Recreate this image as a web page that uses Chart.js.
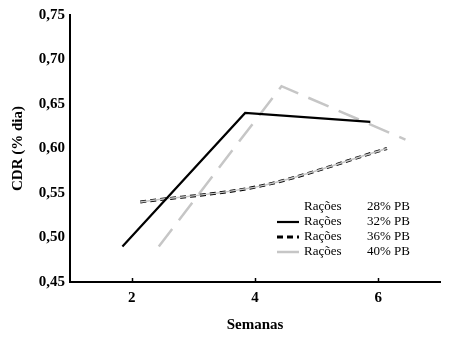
<!DOCTYPE html>
<html>
<head>
<meta charset="utf-8">
<script src="https://cdn.jsdelivr.net/npm/chart.js@4.4.1/dist/chart.umd.min.js"></script>
<style>
  html, body { margin: 0; padding: 0; background: #fff; }
  canvas { display: block; }
</style>
</head>
<body>
<canvas id="chart" width="450" height="337"></canvas>
<script>
// CDR (% dia) per week, one line per ration protein level
var weekTicks = [2, 4, 6];
var weeks32 = [1.85, 3.84, 5.87];
var cdr32 = [0.49, 0.64, 0.63];
var weeks36 = [2.14, 4.1, 6.14];
var cdr36 = [0.54, 0.558, 0.60];
var weeks40 = [2.44, 4.43, 6.44];
var cdr40 = [0.49, 0.67, 0.61];
var legendRows = [
    { name: "Rações", level: "28% PB", ds: null },
    { name: "Rações", level: "32% PB", ds: 0 },
    { name: "Rações", level: "36% PB", ds: 2 },
    { name: "Rações", level: "40% PB", ds: 3 }
];

var serif = "'Liberation Serif', 'Times New Roman', serif";
var grey = "#c6c6c6";

function points(xs, ys) {
    return xs.map(function (x, i) { return { x: x, y: ys[i] }; });
}

// small inward tick marks on the x axis plus the two-column legend
var extras = {
    id: "extras",
    afterDraw: function (chart) {
        let ctx = chart.ctx;
        let x = chart.scales.x;
        let area = chart.chartArea;
        ctx.save();
        ctx.strokeStyle = "#000";
        ctx.lineWidth = 1.5;
        weekTicks.forEach(function (v) {
            let px = Math.round(x.getPixelForValue(v)) + 0.5;
            ctx.beginPath();
            ctx.moveTo(px, area.bottom);
            ctx.lineTo(px, area.bottom - 4);
            ctx.stroke();
        });

        ctx.font = "13px " + serif;
        ctx.fillStyle = "#000";
        ctx.textBaseline = "middle";
        for (let i = 0; i < legendRows.length; i++) {
            let row = legendRows[i];
            let y = 207 + i * 15;
            if (row.ds !== null) {
                let ds = chart.data.datasets[row.ds];
                ctx.beginPath();
                ctx.strokeStyle = ds.borderColor;
                ctx.lineWidth = ds.borderWidth;
                ctx.setLineDash(ds.borderDash || []);
                ctx.moveTo(277, y);
                ctx.lineTo(299, y);
                ctx.stroke();
                ctx.setLineDash([]);
            }
            ctx.fillText(row.name, 304, y);
            ctx.fillText(row.level, 367, y);
        }
        ctx.restore();
    }
};

var tickFont = { family: serif, size: 15, weight: "bold" };

chart = new Chart(document.getElementById("chart").getContext("2d"), {
    type: "line",
    data: {
        datasets: [
            {
                label: "32% PB",
                data: points(weeks32, cdr32),
                borderColor: "#000",
                borderWidth: 2.2,
                pointRadius: 0,
                tension: 0
            },
            {
                label: "36% PB base",
                data: points(weeks36, cdr36),
                borderColor: grey,
                borderWidth: 1.5,
                pointRadius: 0,
                cubicInterpolationMode: "monotone"
            },
            {
                label: "36% PB",
                data: points(weeks36, cdr36),
                borderColor: "#000",
                borderWidth: 3,
                borderDash: [6, 4],
                pointRadius: 0,
                cubicInterpolationMode: "monotone"
            },
            {
                label: "40% PB",
                data: points(weeks40, cdr40),
                borderColor: grey,
                borderWidth: 2.5,
                borderDash: [22, 11],
                pointRadius: 0,
                tension: 0
            }
        ]
    },
    options: {
        responsive: false,
        animation: false,
        layout: { padding: { top: 15, right: 10, left: 0, bottom: 0 } },
        plugins: {
            legend: { display: false },
            tooltip: { enabled: false }
        },
        scales: {
            x: {
                type: "linear",
                min: 1,
                max: 7,
                grid: { display: false, drawTicks: false },
                border: { color: "#000", width: 2 },
                afterBuildTicks: function (scale) {
                    scale.ticks = weekTicks.map(function (v) { return { value: v }; });
                },
                afterFit: function (scale) { scale.height = 55; },
                ticks: { color: "#000", font: tickFont, padding: 7 },
                title: {
                    display: true,
                    text: "Semanas",
                    color: "#000",
                    font: tickFont,
                    padding: { top: 0, bottom: 3 }
                }
            },
            y: {
                min: 0.45,
                max: 0.75,
                grid: { display: false, drawTicks: false },
                border: { color: "#000", width: 2 },
                afterFit: function (scale) { scale.width = 70; },
                ticks: {
                    stepSize: 0.05,
                    color: "#000",
                    font: tickFont,
                    padding: 5,
                    callback: function (v) { return v.toFixed(2).replace(".", ","); }
                },
                title: {
                    display: true,
                    text: "CDR (% dia)",
                    color: "#000",
                    font: tickFont,
                    padding: { top: 9, bottom: 0 }
                }
            }
        }
    },
    plugins: [extras]
});
</script>
</body>
</html>
